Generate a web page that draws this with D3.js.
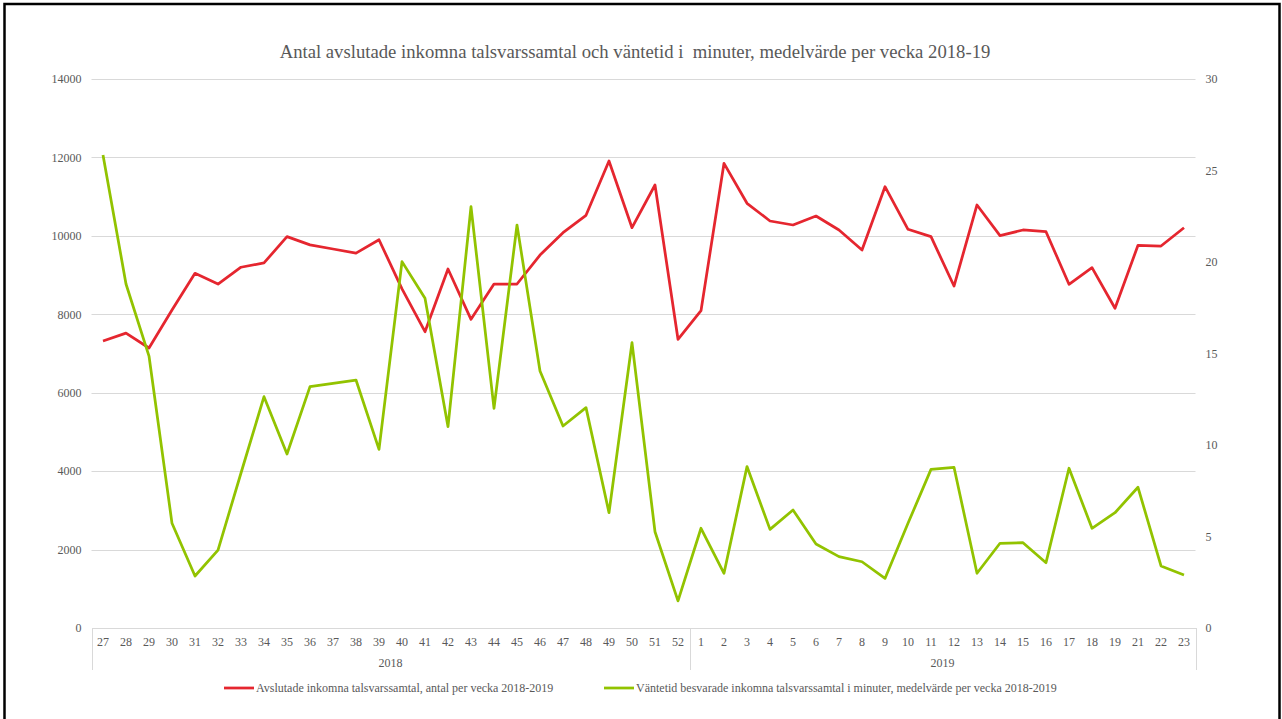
<!DOCTYPE html>
<html>
<head>
<meta charset="utf-8">
<script src="https://cdn.jsdelivr.net/npm/d3@7"></script>
<style>
  html, body { margin: 0; padding: 0; background: #fff; }
  svg text { font-family: "Liberation Serif", "Times New Roman", serif; fill: #595959; white-space: pre; }
</style>
</head>
<body>
<svg id="svg" width="1282" height="719"></svg>
<script>
// veckor, år och serier
var weeks2018 = ['27','28','29','30','31','32','33','34','35','36','37','38','39','40','41','42','43','44','45','46','47','48','49','50','51','52'];
var weeks2019 = ['1','2','3','4','5','6','7','8','9','10','11','12','13','14','15','16','17','18','19','21','22','23'];
var years = ['2018', '2019'];

var calls = [7320, 7520, 7140, 8110, 9045, 8770, 9200, 9310, 9980, 9770, 9665, 9560, 9900, 8650, 7556, 9155, 7872, 8772, 8772, 9511, 10081, 10524, 11909, 10208, 11297, 7362,
             8092, 11850, 10830, 10379, 10277, 10506, 10150, 9640, 11254, 10167, 9979, 8721, 10787, 10005, 10150, 10106, 8765, 9189, 8153, 9759, 9741, 10208];
var waits = [25.85, 18.8, 14.86, 5.72, 2.84, 4.26, 8.47, 12.64, 9.51, 13.19, 13.37, 13.55, 9.76, 20.02, 18.02, 11.0, 23.02, 12.0, 22.02, 14.04, 11.04, 12.04, 6.3, 15.59, 5.26, 1.48,
             5.45, 2.99, 8.82, 5.39, 6.45, 4.59, 3.9, 3.62, 2.71, 5.72, 8.67, 8.78, 2.99, 4.63, 4.66, 3.57, 8.73, 5.45, 6.3, 7.69, 3.39, 2.9];

var leftTicks = [0, 2000, 4000, 6000, 8000, 10000, 12000, 14000];
var rightTicks = [0, 5, 10, 15, 20, 25, 30];

var seriesNames = ['Avslutade inkomna talsvarssamtal, antal per vecka 2018-2019',
                   'Väntetid besvarade inkomna talsvarssamtal i minuter, medelvärde per vecka 2018-2019'];
var seriesColors = ['#e5262f', '#92c300'];

var titleText = 'Antal avslutade inkomna talsvarssamtal och väntetid i  minuter, medelvärde per vecka 2018-19';

// kategorier: år + vecka
var cats = [];
weeks2018.forEach(function(w) { cats.push('2018-' + w); });
weeks2019.forEach(function(w) { cats.push('2019-' + w); });

var svg = d3.select('#svg');

// ram
svg.append('rect').attr('x', 4.5).attr('y', 4).attr('width', 1275).attr('height', 720)
  .attr('fill', 'none').attr('stroke', '#000').attr('stroke-width', 2.5);

var plotLeft = 91.5, plotRight = 1195.5, plotTop = 79, plotBottom = 628;

var x = d3.scaleBand().domain(cats).range([plotLeft, plotRight]);
var yL = d3.scaleLinear().domain([0, 14000]).range([plotBottom, plotTop]);
var yR = d3.scaleLinear().domain([0, 30]).range([plotBottom, plotTop]);

// rubrik
svg.append('text').attr('x', 635).attr('y', 58).attr('text-anchor', 'middle')
  .style('font-size', '18.7px').text(titleText);

// stödlinjer
svg.append('g').selectAll('line').data(leftTicks.slice(1)).enter().append('line')
  .attr('x1', plotLeft).attr('x2', plotRight)
  .attr('y1', function(d) { return Math.round(yL(d)) + 0.5; })
  .attr('y2', function(d) { return Math.round(yL(d)) + 0.5; })
  .attr('stroke', '#d9d9d9').attr('stroke-width', 1);

// vänster axel
var axL = svg.append('g').attr('transform', 'translate(' + (plotLeft - 10) + ',0)')
  .call(d3.axisLeft(yL).tickValues(leftTicks).tickSize(0).tickPadding(0).tickFormat(d3.format('d')));
axL.select('.domain').remove();
axL.selectAll('text').style('font-size', '12px').attr('fill', '#595959');

// höger axel
var axR = svg.append('g').attr('transform', 'translate(' + (plotRight + 10) + ',0)')
  .call(d3.axisRight(yR).tickValues(rightTicks).tickSize(0).tickPadding(0));
axR.select('.domain').remove();
axR.selectAll('text').style('font-size', '12px').attr('fill', '#595959');

// x-axel
var axX = svg.append('g').attr('transform', 'translate(0,' + plotBottom + ')')
  .call(d3.axisBottom(x).tickSize(0).tickPadding(9).tickFormat(function(d) { return d.split('-')[1]; }));
axX.select('.domain').attr('stroke', '#d9d9d9');
axX.selectAll('text').style('font-size', '12px').attr('fill', '#595959');

// årsavdelare
var sepX = [plotLeft, x(cats[weeks2018.length]), plotRight];
svg.append('g').selectAll('line').data(sepX).enter().append('line')
  .attr('x1', function(d) { return Math.round(d) + 0.5; })
  .attr('x2', function(d) { return Math.round(d) + 0.5; })
  .attr('y1', plotBottom).attr('y2', 670)
  .attr('stroke', '#d9d9d9').attr('stroke-width', 1);

svg.append('g').selectAll('text').data(years).enter().append('text')
  .attr('x', function(d, i) { return (sepX[i] + sepX[i + 1]) / 2; })
  .attr('y', 667).attr('text-anchor', 'middle')
  .style('font-size', '12px').text(function(d) { return d; });

// linjer
var lineL = d3.line().x(function(d, i) { return x(cats[i]) + x.bandwidth() / 2; })
  .y(function(d) { return yL(d); });
var lineR = d3.line().x(function(d, i) { return x(cats[i]) + x.bandwidth() / 2; })
  .y(function(d) { return yR(d); });

svg.append('path').datum(calls).attr('d', lineL).attr('fill', 'none')
  .attr('stroke', seriesColors[0]).attr('stroke-width', 2.75).attr('stroke-linejoin', 'round');
svg.append('path').datum(waits).attr('d', lineR).attr('fill', 'none')
  .attr('stroke', seriesColors[1]).attr('stroke-width', 2.75).attr('stroke-linejoin', 'round');

// förklaring
var legX = [224, 604];
var leg = svg.append('g').selectAll('g').data(seriesNames).enter().append('g')
  .attr('transform', function(d, i) { return 'translate(' + legX[i] + ',688)'; });
leg.append('line').attr('x1', 0).attr('x2', 30).attr('y1', 0).attr('y2', 0)
  .attr('stroke', function(d, i) { return seriesColors[i]; }).attr('stroke-width', 2.75);
leg.append('text').attr('x', 32).attr('y', 4).style('font-size', '12px')
  .text(function(d) { return d; });
</script>
</body>
</html>
